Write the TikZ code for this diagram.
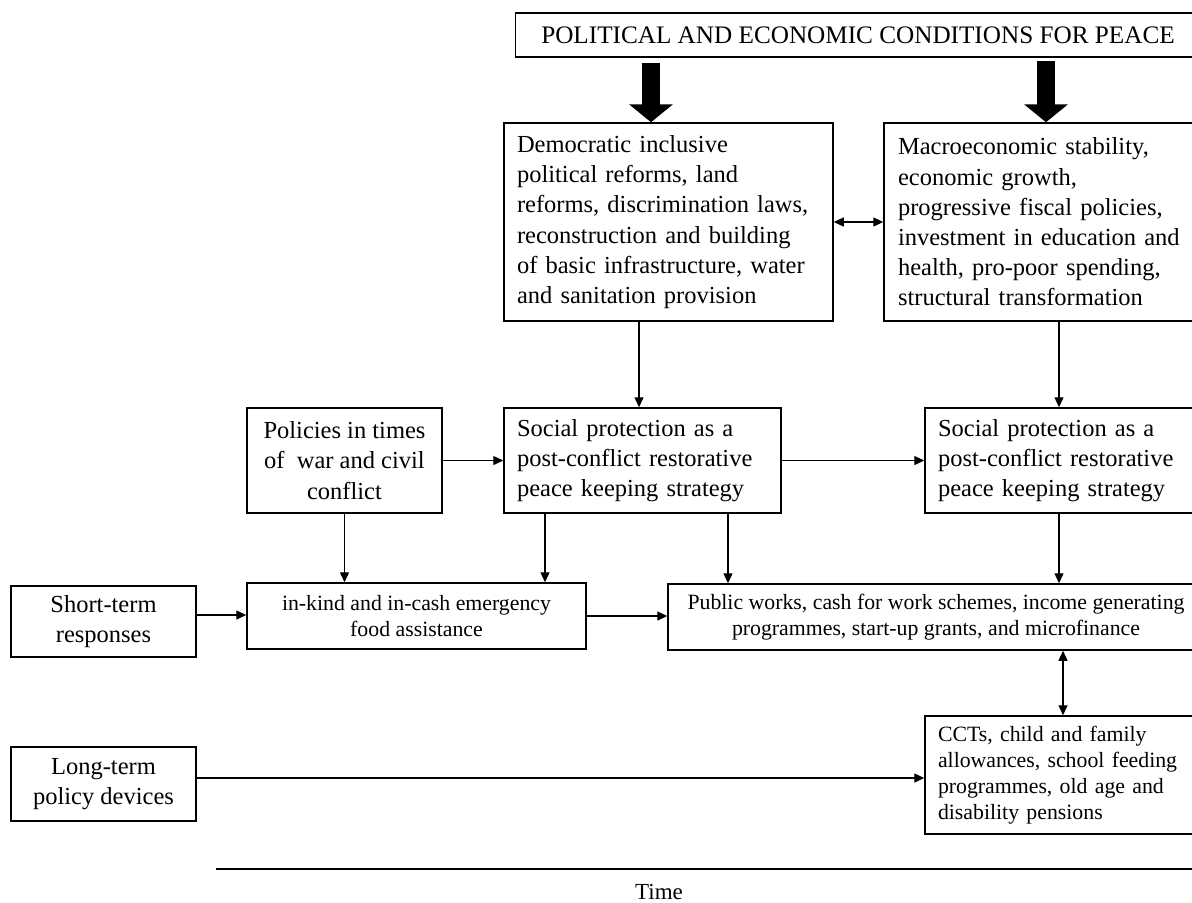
\documentclass[tikz,border=0pt]{standalone}
\usepackage{fontspec}
\setmainfont{Liberation Serif}
\usepackage{tikz}
\usetikzlibrary{arrows.meta,calc}
\newcommand\fbig{\fontsize{12.25}{15.1}\selectfont}
\newcommand\fsml{\fontsize{10.9}{13}\selectfont}
\tikzset{
  boxl/.style={draw, line width=0.75pt, align=left, inner xsep=6.5pt, inner ysep=0pt},
  boxc/.style={draw, line width=0.75pt, align=center, inner sep=0pt},
  edgeto/.style={line width=0.65pt, -{Triangle[length=5pt,width=4.5pt]}},
  edgeboth/.style={line width=0.65pt, {Triangle[length=5pt,width=4.5pt]}-{Triangle[length=5pt,width=4.5pt]}},
  edgebig/.style={line width=9pt, -{Triangle[length=9pt,width=21.5pt]}}
}

\begin{document}
\begin{tikzpicture}[x=0.5pt, y=-0.5pt]
\useasboundingbox (0,0) rectangle (1192,902);
\clip (0,0) rectangle (1192,902);
% boxes
\node[boxc, font=\fontsize{12.6}{15}\selectfont, minimum width=342.5pt, minimum height=22pt] (cond) at (858,35) {POLITICAL AND ECONOMIC CONDITIONS FOR PEACE};
\node[boxl, font=\fbig, text width=151.5pt, minimum height=99pt] (dem) at (668.5,222) {Democratic inclusive\\ political reforms, land\\ reforms, discrimination laws,\\ reconstruction and building\\ of basic infrastructure, water\\ and sanitation provision};
\node[boxl, font=\fbig, inner xsep=7pt, text width=149pt, minimum height=99pt] (macro) at (1047,222) {Macroeconomic stability,\\ economic growth,\\ progressive fiscal policies,\\ investment in education and\\ health, pro-poor spending,\\ structural transformation};
\node[boxc, font=\fbig, minimum width=97.5pt, minimum height=52.5pt] (pol) at (344.5,460.5) {Policies in times\\ of\ \ war and civil\\ conflict};
\node[boxl, font=\fbig, text width=125.5pt, minimum height=52.5pt] (sp1) at (642.5,460.5) {Social protection as a\\ post-conflict restorative\\ peace keeping strategy};
\node[boxl, font=\fbig, text width=129.5pt, minimum height=52.5pt] (sp2) at (1067.5,460.5) {Social protection as a\\ post-conflict restorative\\ peace keeping strategy};
\node[boxc, font=\fsml, minimum width=169.5pt, minimum height=33pt] (inkind) at (416.5,616) {in-kind and in-cash emergency\\ food assistance};
\node[boxc, font=\fsml, minimum width=268pt, minimum height=33pt] (pub) at (936,617) {Public works, cash for work schemes, income generating\\ programmes, start-up grants, and microfinance};
\node[boxc, font=\fbig, minimum width=92.5pt, minimum height=35.5pt] (short) at (103.5,621.5) {Short-term\\ responses};
\node[boxc, font=\fbig, minimum width=92.5pt, minimum height=37pt] (long) at (103.5,784) {Long-term\\ policy devices};
\node[boxl, font=\fsml, text width=129.5pt, minimum height=59pt] (cct) at (1067.5,775) {CCTs, child and family\\ allowances, school feeding\\ programmes, old age and\\ disability pensions};
% guides
\coordinate (bigl) at (651,63);
\coordinate (bigr) at (1046,61);
\coordinate (xd) at (639,0);
\coordinate (xm) at (1059,0);
\coordinate (xs1) at (545,0);
\coordinate (xs2) at (728,0);
\coordinate (xc) at (1063,0);
\coordinate (ys) at (0,615);
\coordinate (yl) at (0,778);
% connectors
\draw[edgebig] (bigl) -- (bigl |- dem.north);
\draw[edgebig] (bigr) -- (bigr |- macro.north);
\draw[edgeboth] (dem.east) -- (macro.west);
\draw[edgeto] (dem.south -| xd) -- (sp1.north -| xd);
\draw[edgeto] (macro.south -| xm) -- (sp2.north -| xm);
\draw[edgeto] (pol.east) -- (sp1.west);
\draw[edgeto] (sp1.east) -- (sp2.west);
\draw[edgeto] (pol.south) -- (inkind.north -| pol.south);
\draw[edgeto] (sp1.south -| xs1) -- (inkind.north -| xs1);
\draw[edgeto] (sp1.south -| xs2) -- (pub.north -| xs2);
\draw[edgeto] (sp2.south -| xm) -- (pub.north -| xm);
\draw[edgeto] (short.east |- ys) -- (inkind.west |- ys);
\draw[edgeto] (inkind.east) -- (pub.west |- inkind.east);
\draw[edgeto] (long.east |- yl) -- (cct.west |- yl);
\draw[edgeboth] (pub.south -| xc) -- (cct.north -| xc);
% time axis
\coordinate (tl) at (216,869);
\coordinate (tr) at (1192,869);
\draw[line width=0.75pt] (tl) -- (tr);
\node[font=\fontsize{11.5}{13}\selectfont] (time) at (659,892) {Time};
\end{tikzpicture}
\end{document}
